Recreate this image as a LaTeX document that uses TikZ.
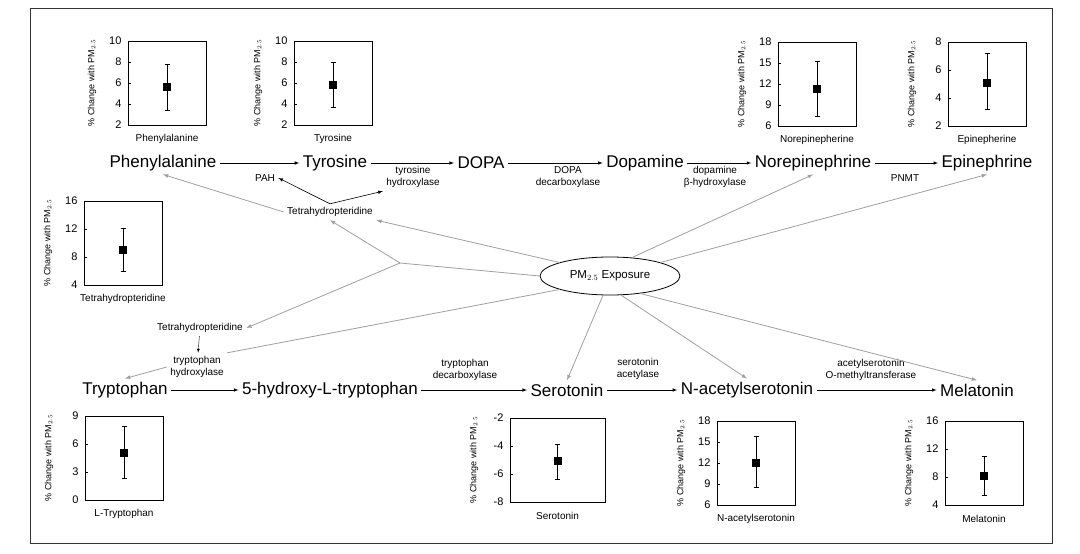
\documentclass[tikz,border=0pt]{standalone}
\usepackage{fontspec}
\setmainfont{Liberation Sans}
\usetikzlibrary{shapes.geometric}

\tikzset{
  met/.style={font=\fontsize{17}{19}\selectfont},
  enz/.style={font=\fontsize{10}{12}\selectfont, align=center},
  rxn/.style={->, >=latex, semithick},
  pm/.style={->, >=latex, gray!75, thick},
  tnum/.style={font=\fontsize{11}{12}\selectfont, anchor=east},
  ax/.style={font=\fontsize{9}{10}\selectfont, rotate=90},
  gcap/.style={font=\fontsize{10}{11}\selectfont},
}

\begin{document}
\begin{tikzpicture}[x=1pt,y=-1pt]
\useasboundingbox (0,0) rectangle (1080,554);
\draw[thick, black!80] (30,8) rectangle (1052,543);

% metabolites
\node[met] (phe) at (163,163) {Phenylalanine};
\node[met] (tyr) at (335,163) {Tyrosine};
\node[met] (dopa) at (481,163) {DOPA};
\node[met] (da) at (645,163) {Dopamine};
\node[met] (ne) at (813,163) {Norepinephrine};
\node[met] (epi) at (987,163) {Epinephrine};
\node[met] (trp) at (125,390) {Tryptophan};
\node[met] (htp) at (330,390) {5-hydroxy-L-tryptophan};
\node[met] (ser) at (567,390) {Serotonin};
\node[met] (nas) at (747,390) {N-acetylserotonin};
\node[met] (mel) at (977,390) {Melatonin};

% enzymes
\node[enz] (pah) at (265,178) {PAH};
\node[enz] (th) at (413,177) {tyrosine\\hydroxylase};
\node[enz] (ddc) at (568,177) {DOPA\\decarboxylase};
\node[enz] (dbh) at (715,177) {dopamine\\β-hydroxylase};
\node[enz] (pnmt) at (905,178) {PNMT};
\node[enz] (bh4) at (330,212) {Tetrahydropteridine};
\node[enz] (bh4b) at (200,328) {Tetrahydropteridine};
\node[enz] (tph) at (197,367) {tryptophan\\hydroxylase};
\node[enz] (aadc) at (465,370) {tryptophan\\decarboxylase};
\node[enz] (aanat) at (638,369) {serotonin\\acetylase};
\node[enz] (asmt) at (871,370) {acetylserotonin\\O-methyltransferase};

\node[ellipse, draw, thick, minimum width=140pt, minimum height=38pt,
  font=\fontsize{11.5}{13}\selectfont] (pmx) at (610,276) {PM$_{2.5}$ Exposure};

% pathway steps
\draw[rxn] (phe) -- (tyr);
\draw[rxn] (tyr) -- (dopa);
\draw[rxn] (dopa) -- (da);
\draw[rxn] (da) -- (ne);
\draw[rxn] (ne) -- (epi);
\draw[rxn] (trp) -- (htp);
\draw[rxn] (htp) -- (ser);
\draw[rxn] (ser) -- (nas);
\draw[rxn] (nas) -- (mel);
\draw[rxn] (bh4.north) -- (pah.east);
\draw[rxn] (bh4.north) -- (th.south west);
\draw[rxn, thin] (bh4b) -- (tph);

% PM2.5 effects
\coordinate (fork) at (400,263);
\draw[pm] (bh4.west) -- (phe.south);
\draw[gray!75, thick] (pmx.180) -- (fork);
\draw[pm] (fork) -- (bh4.south);
\draw[pm] (fork) -- (bh4b.east);
\draw[pm] (pmx.165) -- (bh4.south east);
\draw[gray!75, thick] (pmx.195) -- (tph.north east);
\draw[pm] (tph.west) -- (trp.north);
\draw[pm] (pmx.40) -- (ne.south);
\draw[pm] (pmx.15) -- (epi.south);
\draw[pm] (pmx.250) -- (ser.north);
\draw[pm] (pmx.300) -- (nas.north);
\draw[pm] (pmx.330) -- (mel.north);

% panels: name/left/top/width/min/step/max/value/low/high/label
\foreach \nm/\bx/\by/\bw/\lo/\st/\hi/\v/\el/\eh/\lab in {
  gphe/128/41/78/2/2/10/5.6/3.4/7.8/Phenylalanine,
  gtyr/294/41/78/2/2/10/5.8/3.7/8/Tyrosine,
  gne/778/42/78/6/3/18/11.3/7.4/15.2/Norepinepherine,
  gepi/948/42/78/2/2/8/5.1/3.2/7.2/Epinepherine,
  gbh4/84/201/78/4/4/16/9/6/12.1/Tetrahydropteridine,
  gtrp/85/416/78/0/3/9/5/2.3/7.9/L-Tryptophan,
  gser/510/418/95/-8/2/-2/-5.1/-6.4/-3.9/Serotonin,
  gnas/717/421/78/6/3/18/12/8.5/15.8/N-acetylserotonin,
  gmel/945/421/78/4/4/16/8.1/5.4/11/Melatonin} {
  \pgfmathsetmacro\nx{\lo+\st}
  \pgfmathsetmacro\cx{\bx+\bw/2}
  \node[draw, thick, minimum width=\bw pt, minimum height=84pt, inner sep=0pt,
    anchor=north west] (\nm) at (\bx,\by) {};
  \foreach \t in {\lo,\nx,...,\hi} {
    \pgfmathsetmacro\ty{\by+84-(\t-\lo)/(\hi-\lo)*84}
    \pgfmathtruncatemacro\tl{round(\t)}
    \draw (\bx,\ty) -- (\bx+3,\ty);
    \node[tnum] at (\bx-3,\ty) {\tl};
  }
  \pgfmathsetmacro\yv{\by+84-(\v-\lo)/(\hi-\lo)*84}
  \pgfmathsetmacro\yl{\by+84-(\el-\lo)/(\hi-\lo)*84}
  \pgfmathsetmacro\yh{\by+84-(\eh-\lo)/(\hi-\lo)*84}
  \draw (\cx-2.5,\yl) -- (\cx+2.5,\yl) (\cx,\yl) -- (\cx,\yh) (\cx-2.5,\yh) -- (\cx+2.5,\yh);
  \fill (\cx-4,\yv-4) rectangle (\cx+4,\yv+4);
  \node[ax] at (\bx-36,\by+42) {\% Change with PM$_{2.5}$};
  \node[gcap] at (\cx,\by+98) {\lab};
}
\end{tikzpicture}
\end{document}
